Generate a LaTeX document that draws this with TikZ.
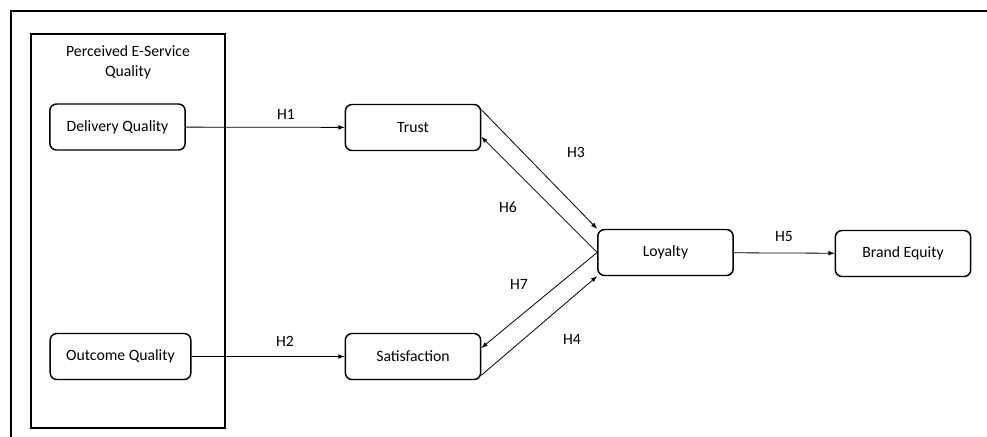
\documentclass[tikz,border=0pt]{standalone}
\usepackage{fontspec}
\setmainfont{Carlito}
\usepackage{tikz}
\usetikzlibrary{shapes}
\usetikzlibrary{arrows}
\usetikzlibrary{calc}
\tikzset{node distance=2cm, auto}
\tikzset{construct/.style={draw=black, line width=1.1pt, rounded corners=5pt, minimum width=101.5pt, minimum height=34.5pt, inner sep=0pt, font=\fontsize{11.8}{14}\selectfont}}
\tikzset{hyp/.style={-latex, line width=0.6pt}}
\tikzset{hlabel/.style={font=\fontsize{11.8}{14}\selectfont}}

\begin{document}
\begin{tikzpicture}[x=0.75pt,y=-0.75pt]
\useasboundingbox (0,0) rectangle (987,436);
\draw[line width=1.5pt] (987,11) -- (11,11) -- (11,437);
\draw[line width=1.1pt] (31,34) rectangle (225,428);
\node[align=center, font=\fontsize{11.8}{15}\selectfont] (pesq) at (128,62) {Perceived E-Service\\Quality};

\node[construct] (delivery) at (117.5,127) {Delivery Quality};
\node[construct, minimum width=105.5pt] (outcome) at (120.5,356.5) {Outcome Quality};
\node[construct] (trust) at (413,127.5) {Trust};
\node[construct] (satisfaction) at (413,356.5) {Satisfaction};
\node[construct] (loyalty) at (665.5,252.5) {Loyalty};
\node[construct] (brand) at (903,253.5) {Brand Equity};

\draw[hyp] (delivery) -- (trust);
\draw[hyp] (outcome) -- (satisfaction);
\draw[hyp] ([yshift=-4.5pt]trust.north east) -- (loyalty.north west);
\draw[hyp] (loyalty.west) -- ([yshift=-7pt]trust.east);
\draw[hyp] (loyalty.west) -- ([yshift=6.4pt]satisfaction.east);
\draw[hyp] ([yshift=3.75pt]satisfaction.south east) -- (loyalty.south west);
\draw[hyp] (loyalty) -- (brand);

\node[hlabel] (h1) at (286,114) {H1};
\node[hlabel] (h2) at (285,341) {H2};
\node[hlabel] (h3) at (576,152) {H3};
\node[hlabel] (h4) at (572,339) {H4};
\node[hlabel] (h5) at (784,236) {H5};
\node[hlabel] (h6) at (508,207) {H6};
\node[hlabel] (h7) at (519,284) {H7};

\end{tikzpicture}
\end{document}
